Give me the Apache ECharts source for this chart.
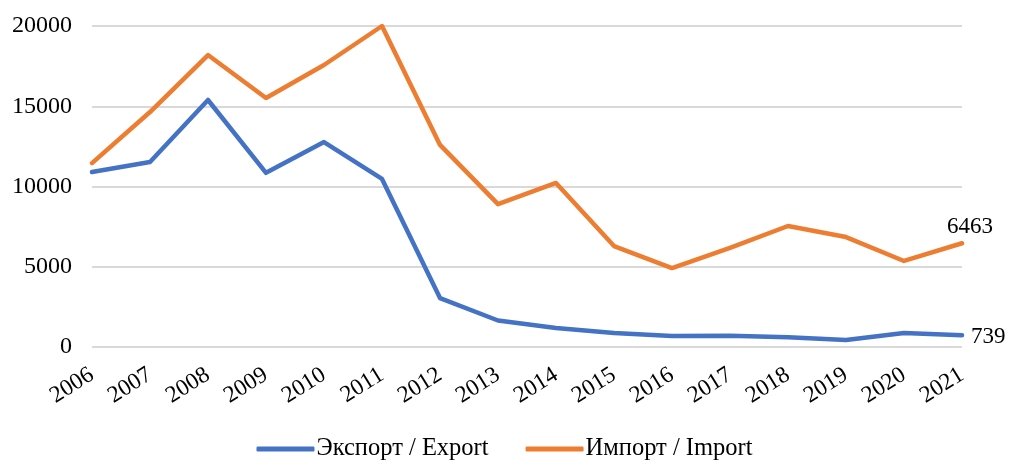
<!DOCTYPE html>
<html>
<head>
<meta charset="utf-8">
<script src="https://cdn.jsdelivr.net/npm/echarts@6/dist/echarts.min.js"></script>
<style>html,body{margin:0;padding:0;background:#fff}#c{width:1009px;height:463px}</style>
</head>
<body>
<div id="c"></div>
<script>
const years = ['2006','2007','2008','2009','2010','2011','2012','2013','2014','2015','2016','2017','2018','2019','2020','2021'];
const exportValues = [10900, 11530, 15390, 10850, 12770, 10470, 3050, 1650, 1180, 870, 690, 700, 600, 440, 870, 739];
const importValues = [11460, 14640, 18190, 15510, 17570, 20000, 12590, 8900, 10220, 6290, 4920, 6170, 7540, 6850, 5360, 6463];
const seriesNames = ['Экспорт / Export', 'Импорт / Import'];
const yTicks = { min: 0, max: 20000, interval: 5000 };

const font = 'Liberation Serif';
function lastLabel(arr, pos, offset) {
  return arr.map((v, i) => i === arr.length - 1 ? {
    value: v,
    label: { show: true, position: pos, offset: offset, formatter: '{c}', color: '#000', fontFamily: font, fontSize: 23 }
  } : v);
}
const chart = echarts.init(document.getElementById('c'), null, { renderer: 'canvas' });
chart.setOption({
  animation: false,
  grid: { left: 92, right: 47, top: 26, bottom: 116, containLabel: false },
  legend: {
    top: 431,
    left: 'center',
    itemWidth: 58,
    itemHeight: 5,
    itemGap: 37,
    icon: 'roundRect',
    textStyle: { fontFamily: font, fontSize: 24.5, color: '#000', padding: [0, 0, 0, -3], lineHeight: 26 },
    data: seriesNames
  },
  xAxis: {
    type: 'category',
    data: years,
    boundaryGap: false,
    axisLine: { show: false },
    axisTick: { show: false },
    axisLabel: { interval: 0, rotate: 32, fontFamily: font, fontSize: 23.5, color: '#000', margin: 26 }
  },
  yAxis: {
    type: 'value',
    min: yTicks.min, max: yTicks.max, interval: yTicks.interval,
    axisLine: { show: false },
    axisTick: { show: false },
    axisLabel: { fontFamily: font, fontSize: 24, color: '#000', margin: 20, formatter: v => String(v) },
    splitLine: { lineStyle: { color: '#d9d9d9', width: 2 } }
  },
  series: [
    {
      name: seriesNames[0], type: 'line', data: lastLabel(exportValues, 'right', [4, 2]),
      symbol: 'circle', symbolSize: 0, showSymbol: true, itemStyle: { color: '#4472C4' },
      lineStyle: { color: '#4472C4', width: 4.5, cap: 'round', join: 'round' }
    },
    {
      name: seriesNames[1], type: 'line', data: lastLabel(importValues, 'top', [8, 0]),
      symbol: 'circle', symbolSize: 0, showSymbol: true, itemStyle: { color: '#ED7D31' },
      lineStyle: { color: '#ED7D31', width: 4.5, cap: 'round', join: 'round' }
    }
  ]
});
</script>
</body>
</html>
